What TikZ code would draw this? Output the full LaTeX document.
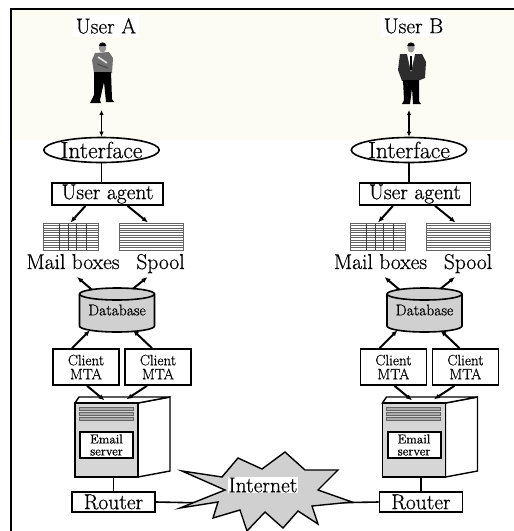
\documentclass[tikz,border=0pt]{standalone}
\usepackage{fontspec}
\setmainfont{Latin Modern Roman}[FakeBold=0.6]
\usetikzlibrary{arrows.meta,shapes.geometric}
\definecolor{cream}{RGB}{252,252,245}
\definecolor{facegray}{RGB}{214,214,214}
\definecolor{dbgray}{RGB}{208,208,208}
\definecolor{netgray}{RGB}{208,208,208}
\definecolor{ruled}{RGB}{100,100,100}
\definecolor{sweater}{RGB}{112,112,112}
\definecolor{suit}{RGB}{45,45,45}
\definecolor{skin}{RGB}{150,150,150}

\tikzset{
  txt/.style={font=\fontsize{21.5}{24}\selectfont, inner sep=0pt},
  box/.style={txt, draw, line width=1.6pt, fill=white},
  ifc/.style={box, ellipse, minimum width=114pt, minimum height=25pt, font=\fontsize{23.5}{26}\selectfont},
  tray/.style={draw=ruled, line width=1pt, minimum height=27pt, inner sep=0pt},
  mbox/.style={tray, minimum width=55pt, path picture={
      \foreach \k in {1,...,10}{\draw[ruled, line width=0.7pt]
        ([yshift=-\k*2.45pt]path picture bounding box.north west) --
        ([yshift=-\k*2.45pt]path picture bounding box.north east);}
      \foreach \k in {16,25,33,43}{\draw[ruled!60!black, line width=1pt]
        ([xshift=\k pt]path picture bounding box.north west) --
        ([xshift=\k pt]path picture bounding box.south west);}}},
  sbox/.style={tray, minimum width=64pt, path picture={
      \foreach \k in {1,...,10}{\draw[ruled, line width=0.7pt]
        ([yshift=-\k*2.45pt]path picture bounding box.north west) --
        ([yshift=-\k*2.45pt]path picture bounding box.north east);}}},
  mta/.style={draw, line width=1.6pt, fill=white, minimum width=66pt, minimum height=36pt,
    inner sep=0pt, align=center, font=\fontsize{15}{14}\selectfont},
  link/.style={line width=2pt},
  tipend/.style={link, -{Latex[length=6pt,width=5pt]}},
  tipstart/.style={link, {Latex[length=6pt,width=5pt]}-},
  twoway/.style={line width=1.4pt, {Latex[length=5pt,width=4.5pt]}-{Latex[length=5pt,width=4.5pt]}},
  wire/.style={line width=1.6pt},
}

\begin{document}
\begin{tikzpicture}[x=1pt,y=-1pt,line join=miter]
\useasboundingbox (0,0) rectangle (514,531);

% shaded band behind the users and the frame
\fill[cream] (11,9) rectangle (514,140);
\draw[line width=2.5pt] (11,531) -- (11,9) -- (514,9);

% user A: casual clothes, arms folded
\fill[sweater] (95,53) -- (109,52) -- (113,58) -- (112,73) -- (94,73) -- (92,60) -- cycle;
\draw[white!75!gray, line width=1.6pt] (98,57) -- (107,63);
\draw[black!70, line width=1.2pt] (97,64) -- (108,68);
\fill[black] (94,72) -- (111,72) -- (112,99) -- (114,102) -- (106,102) -- (104,82)
  -- (100,100) -- (101,103) -- (90,103) -- (94,95) -- cycle;
\fill[skin] (102.5,48) ellipse [x radius=3.6pt, y radius=4.6pt];
\fill[black] (98.8,46) arc[start angle=180, end angle=0, x radius=3.8pt, y radius=3.6pt] -- cycle;

% user B: dark suit and tie
\fill[suit] (400,54) -- (422,54) -- (426,62) -- (425,78) -- (420,80) -- (402,81) -- (398,70) -- cycle;
\fill[white] (407,54) -- (415,54) -- (411,72) -- cycle;
\draw[black, line width=1.5pt] (411,56) -- (411,70);
\fill[black] (403,80) -- (419,80) -- (419,101) -- (421,104) -- (413,104) -- (412,88)
  -- (410,104) -- (402,104) -- (404,100) -- cycle;
\fill[skin] (411,48) ellipse [x radius=3.6pt, y radius=4.6pt];
\fill[black] (407.2,46) arc[start angle=180, end angle=0, x radius=3.8pt, y radius=3.6pt] -- cycle;

% the two identical mail stacks
\foreach \s/\dx in {A/0,B/307.5}{
\begin{scope}[xshift=\dx pt]
  \node[txt, fill=white, inner sep=3pt] (user\s) at (106,26) {User \s};
  \coordinate (feet\s) at (101.5,110);
  \node[ifc] (if\s) at (101.5,150) {Interface};
  \node[box, minimum width=111pt, minimum height=22pt] (ua\s) at (107.5,194) {User agent};
  \node[mbox] (mb\s) at (70.5,236.5) {};
  \node[sbox] (sp\s) at (151,236.5) {};
  \node[txt, anchor=base] (mbl\s) at (73,269) {Mail boxes};
  \node[txt, anchor=base] (spl\s) at (160.5,269) {Spool};

  % database cylinder
  \filldraw[fill=dbgray, line width=1.6pt] (79.5,294) -- (79.5,326)
    arc[start angle=180, end angle=360, x radius=37.5pt, y radius=6pt] -- (154.5,294)
    arc[start angle=0, end angle=180, x radius=37.5pt, y radius=6pt] -- cycle;
  \draw[line width=1.6pt] (79.5,294) arc[start angle=180, end angle=360, x radius=37.5pt, y radius=6pt];
  \node[minimum width=75pt, minimum height=44pt, inner sep=0pt,
        font=\fontsize{15.5}{17}\selectfont] (db\s) at (117,310) {\raisebox{-3pt}{Database}};

  \node[mta] (cm\s1) at (86,367) {Client\\MTA};
  \node[mta] (cm\s2) at (158,367) {Client\\MTA};

  % email server cabinet
  \filldraw[fill=white, line width=1.4pt] (138,403) -- (170,397) -- (170,471) -- (138,477) -- cycle;
  \filldraw[fill=white, line width=1.4pt] (75,403) -- (79,397) -- (170,397) -- (138,403) -- cycle;
  \node[draw, line width=1.4pt, fill=facegray, minimum width=63pt, minimum height=74pt,
        inner sep=0pt] (srv\s) at (106.5,440) {};
  \foreach \yy in {407,412,417}
    \filldraw[fill=gray!65, draw=ruled, line width=0.6pt] (79,\yy) rectangle (133,\yy+3.5);
  \node[draw, line width=2pt, fill=white, minimum width=53pt, minimum height=26pt, inner sep=0pt,
        align=center, font=\fontsize{13}{12}\selectfont] (em\s) at (106.5,445) {Email\\server};

  \node[box, minimum width=83pt, minimum height=20pt] (rt\s) at (113.5,502) {Router};

  % connectors
  \draw[twoway] (feet\s) -- (if\s.north);
  \draw[wire] (if\s.south) -- (if\s.south |- ua\s.north);
  \draw[tipend] ([xshift=-22pt]ua\s.south) -- (mb\s.north);
  \draw[tipend] ([xshift=20pt]ua\s.south) -- ([xshift=-3pt]sp\s.north);
  \draw[tipstart] ([xshift=4pt,yshift=-8pt]mbl\s.base) -- ([xshift=-25pt,yshift=-2pt]db\s.north);
  \draw[tipstart] ([xshift=-13pt,yshift=-8pt]spl\s.base) -- ([xshift=16pt,yshift=-1pt]db\s.north);
  \draw[tipstart] ([xshift=-27pt,yshift=2pt]db\s.south) -- ([xshift=-14pt]cm\s1.north);
  \draw[tipstart] ([xshift=16pt,yshift=2pt]db\s.south) -- ([xshift=-6pt]cm\s2.north);
  \draw[tipend] ([xshift=1pt]cm\s1.south) -- ([xshift=-2pt,yshift=2pt]srv\s.north);
  \draw[tipend] ([xshift=-11pt]cm\s2.south) -- ([xshift=20pt,yshift=3pt]srv\s.north);
  \draw[wire] (rt\s.north) -- (rt\s.north |- srv\s.south);
\end{scope}
}

% Internet cloud between the routers
\coordinate (netL) at (205,503);
\coordinate (netR) at (322,503);
\draw[wire] (rtA.east) -- (netL);
\draw[wire] (rtB.west) -- (netR);
\filldraw[fill=netgray, line width=1.4pt]
  (182,471) -- (222,477) -- (238,458) -- (262,469) -- (285,452) -- (305,470) -- (338,470)
  -- (318,490) -- (352,502) -- (312,506) -- (318,524) -- (298,511) -- (283,528) -- (265,512)
  -- (247,531) -- (240,510) -- (213,518) -- (218,502) -- (180,508) -- (225,490) -- cycle;
\node[txt, fill=white, inner sep=1pt] (net) at (263,485) {Internet};
\end{tikzpicture}
\end{document}
